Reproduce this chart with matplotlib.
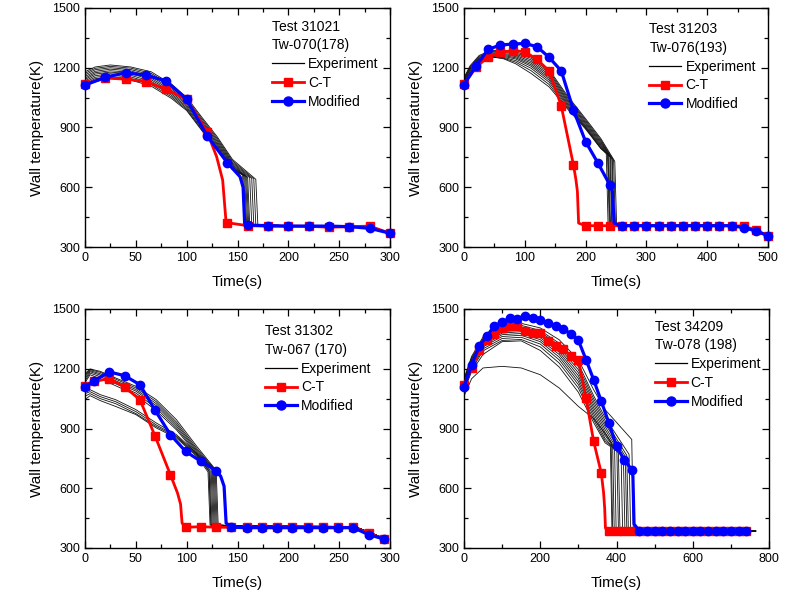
import matplotlib
matplotlib.use('Agg')
import matplotlib.pyplot as plt
from matplotlib.lines import Line2D
from matplotlib.ticker import MultipleLocator

plt.rcParams['font.family'] = ['Liberation Sans', 'DejaVu Sans']

# ---------------- Panel 1 : Test 31021 ----------------
P1_TITLE = "Test 31021\nTw-070(178)"
P1_EXP_GRID = [0, 10, 25, 45, 65, 85, 100, 115, 130, 145]
P1_EXP_VALS = [
    [1180, 1204, 1214, 1204, 1180, 1118, 1052, 951, 854, 740],
    [1172, 1197, 1207, 1198, 1172, 1110, 1044, 943, 846, 733],
    [1164, 1190, 1200, 1191, 1164, 1102, 1036, 935, 838, 726],
    [1156, 1182, 1193, 1184, 1156, 1094, 1028, 927, 830, 720],
    [1148, 1175, 1185, 1177, 1148, 1086, 1020, 919, 822, 714],
    [1141, 1168, 1178, 1170, 1140, 1078, 1012, 911, 815, 708],
    [1134, 1160, 1170, 1162, 1132, 1070, 1004, 903, 808, 702],
    [1127, 1152, 1162, 1154, 1124, 1062, 997, 895, 800, 697],
    [1120, 1145, 1154, 1146, 1116, 1054, 990, 888, 793, 692],
    [1113, 1138, 1146, 1138, 1108, 1046, 985, 884, 787, 688],
]
P1_EXP_DROP_T = [168, 166, 164, 162, 160, 159, 158, 157, 156, 155]
P1_EXP_DROP_V = [640, 642, 645, 648, 650, 652, 655, 658, 660, 662]
P1_EXP_AFTER = 412
P1_EXP_TAIL_T = [175, 250, 280, 300]
P1_EXP_TAIL_V = [410, 403, 398, 372]
P1_SIM_T = [0, 20, 40, 60, 80, 100, 120, 140, 160, 180, 200, 220, 240, 260, 280, 300]
P1_CT_V = [1118, 1148, 1143, 1130, 1092, 1041, 879, 422, 407, 405, 405, 404, 399, 402, 405, 369]
P1_CT_DROP_T = [129.5, 135.4, 138.5]
P1_CT_DROP_V = [753, 636, 440]
P1_MOD_V = [1113, 1152, 1175, 1163, 1133, 1041, 859, 723, 410, 407, 405, 405, 405, 402, 394, 369]
P1_MOD_DROP_T = [152.5, 155.5, 157]
P1_MOD_DROP_V = [653, 600, 420]

# ---------------- Panel 2 : Test 31203 ----------------
P2_TITLE = "Test 31203\nTw-076(193)"
P2_EXP_GRID = [0, 10, 25, 45, 65, 85, 110, 140, 170, 200, 225]
P2_EXP_VALS = [
    [1150, 1210, 1262, 1287, 1287, 1280, 1255, 1190, 1060, 944, 845],
    [1145, 1205, 1257, 1282, 1283, 1274, 1248, 1182, 1052, 937, 838],
    [1140, 1200, 1252, 1278, 1278, 1268, 1240, 1174, 1044, 930, 831],
    [1135, 1195, 1247, 1273, 1272, 1262, 1232, 1165, 1037, 923, 825],
    [1130, 1190, 1243, 1269, 1267, 1256, 1224, 1156, 1030, 917, 818],
    [1125, 1183, 1238, 1264, 1262, 1250, 1216, 1147, 1022, 910, 812],
    [1120, 1176, 1233, 1260, 1257, 1244, 1208, 1138, 1015, 904, 806],
    [1115, 1170, 1230, 1256, 1252, 1236, 1198, 1128, 1008, 900, 800],
    [1110, 1165, 1228, 1254, 1248, 1228, 1186, 1116, 1000, 896, 796],
    [1110, 1162, 1228, 1255, 1245, 1220, 1172, 1104, 994, 892, 794],
]
P2_EXP_DROP_T = [248, 246, 244, 243, 241, 240, 238, 237, 236, 234]
P2_EXP_DROP_V = [730, 735, 740, 745, 750, 752, 758, 760, 765, 770]
P2_EXP_AFTER = 410
P2_EXP_TAIL_T = [300, 440, 480, 500]
P2_EXP_TAIL_V = [407, 405, 385, 356]
P2_SIM_T = [0, 20, 40, 60, 80, 100, 120, 140, 160, 180, 200, 220, 240, 260, 280, 300,
            320, 340, 360, 380, 400, 420, 440, 460, 480, 500]
P2_CT_V = [1118, 1203, 1255, 1277, 1286, 1281, 1242, 1184, 1008, 712, 407, 407, 407,
           407, 407, 407, 407, 407, 407, 407, 407, 407, 407, 405, 385, 356]
P2_CT_DROP_T = [184, 186.5, 188.5]
P2_CT_DROP_V = [640, 580, 420]
P2_MOD_V = [1115, 1210, 1293, 1314, 1319, 1322, 1306, 1252, 1184, 988, 829, 723, 611,
            407, 407, 407, 407, 407, 407, 407, 407, 407, 407, 397, 381, 356]
P2_MOD_DROP_T = [244, 247]
P2_MOD_DROP_V = [580, 420]

# ---------------- Panel 3 : Test 31302 ----------------
P3_TITLE = "Test 31302\nTw-067 (170)"
P3_EXP_GRID = [0, 5, 15, 30, 50, 70, 90, 110]
P3_EXP_VALS = [
    [1175, 1199, 1187, 1154, 1112, 1045, 944, 810],
    [1168, 1195, 1182, 1148, 1104, 1035, 932, 800],
    [1160, 1190, 1175, 1140, 1096, 1025, 922, 792],
    [1150, 1185, 1168, 1132, 1088, 1015, 912, 785],
    [1140, 1178, 1160, 1125, 1078, 1003, 902, 778],
    [1130, 1170, 1150, 1115, 1068, 990, 893, 770],
    [1087, 1095, 1070, 1045, 995, 928, 869, 775],
    [1075, 1085, 1060, 1035, 985, 918, 862, 770],
    [1062, 1075, 1050, 1025, 975, 910, 858, 765],
    [1045, 1065, 1040, 1011, 970, 903, 852, 760],
]
P3_EXP_DROP_T = [129, 128, 127, 126, 125, 124, 123, 122, 122, 121]
P3_EXP_DROP_V = [690, 692, 695, 697, 700, 700, 690, 688, 685, 682]
P3_EXP_AFTER = 415
P3_EXP_TAIL_T = [160, 265, 280, 296]
P3_EXP_TAIL_V = [410, 408, 378, 345]
P3_SIM_T = [0, 9, 24, 39, 54, 69, 84, 99, 114, 129, 144, 159, 174, 189, 204, 219, 234,
            249, 264, 279, 294]
P3_CT_V = [1115, 1137, 1150, 1108, 1045, 861, 668, 404, 407, 404, 404, 404, 404, 404,
           404, 404, 404, 404, 404, 375, 345]
P3_CT_DROP_T = [91, 94, 95.5]
P3_CT_DROP_V = [576, 520, 425]
P3_MOD_V = [1108, 1140, 1184, 1165, 1120, 991, 869, 785, 735, 688, 404, 402, 402, 402,
            402, 402, 402, 402, 402, 367, 345]
P3_MOD_DROP_T = [133.5, 136.8, 138.8]
P3_MOD_DROP_V = [660, 610, 425]

# ---------------- Panel 4 : Test 34209 ----------------
P4_TITLE = "Test 34209\nTw-078 (198)"
P4_EXP_GRID = [0, 20, 50, 100, 150, 200, 250, 300, 340, 370]
P4_EXP_VALS = [
    [1150, 1262, 1360, 1412, 1428, 1405, 1345, 1245, 1095, 995],
    [1145, 1255, 1352, 1405, 1418, 1392, 1328, 1225, 1065, 955],
    [1140, 1250, 1346, 1400, 1410, 1384, 1318, 1210, 1050, 940],
    [1132, 1242, 1340, 1394, 1402, 1375, 1306, 1195, 1035, 925],
    [1126, 1236, 1332, 1386, 1394, 1365, 1295, 1180, 1020, 910],
    [1120, 1230, 1325, 1379, 1386, 1356, 1283, 1165, 1005, 895],
    [1112, 1222, 1318, 1371, 1377, 1346, 1271, 1150, 990, 880],
    [1106, 1214, 1310, 1362, 1368, 1336, 1258, 1135, 975, 865],
    [1100, 1206, 1300, 1352, 1358, 1324, 1244, 1120, 960, 850],
    [1094, 1196, 1290, 1342, 1347, 1310, 1228, 1103, 945, 838],
    [1088, 1186, 1272, 1336, 1340, 1292, 1208, 1082, 930, 828],
    [1062, 1150, 1204, 1212, 1204, 1170, 1103, 1011, 950, 875],
]
P4_EXP_DROP_T = [440, 433, 427, 423, 418, 412, 405, 401, 395, 390, 384, 386]
P4_EXP_DROP_V = [845, 770, 765, 760, 760, 765, 775, 785, 795, 805, 810, 830]
P4_EXP_AFTER = 395
P4_EXP_TAIL_T = [500, 700, 765]
P4_EXP_TAIL_V = [390, 388, 385]
P4_SIM_T = [0, 20, 40, 60, 80, 100, 120, 140, 160, 180, 200, 220, 240, 260, 280, 300,
            320, 340, 360, 380, 400, 420, 440, 460, 480, 500, 520, 540, 560, 580, 600,
            620, 640, 660, 680, 700, 720, 740]
P4_CT_V = [1120, 1204, 1293, 1346, 1376, 1405, 1413, 1413, 1391, 1380, 1380, 1338, 1313,
           1299, 1263, 1246, 1053, 836, 677, 384, 384, 384, 384, 384, 384, 384, 384,
           384, 384, 384, 384, 384, 384, 384, 384, 384, 384, 384]
P4_CT_DROP_T = [366, 369, 371]
P4_CT_DROP_V = [580, 500, 400]
P4_MOD_V = [1108, 1221, 1313, 1363, 1417, 1433, 1455, 1450, 1467, 1455, 1443, 1430, 1413,
            1400, 1375, 1343, 1246, 1145, 1037, 928, 811, 744, 693, 386, 386, 386, 386,
            386, 386, 386, 386, 386, 386, 386, 386, 386, 386, 386]
P4_MOD_DROP_T = [443, 446]
P4_MOD_DROP_V = [660, 420]

PANELS = [
    dict(title=P1_TITLE, grid=P1_EXP_GRID, vals=P1_EXP_VALS, dt=P1_EXP_DROP_T, dv=P1_EXP_DROP_V,
         after=P1_EXP_AFTER, tt=P1_EXP_TAIL_T, tv=P1_EXP_TAIL_V, st=P1_SIM_T,
         ct=P1_CT_V, ctdt=P1_CT_DROP_T, ctdv=P1_CT_DROP_V, md=P1_MOD_V, mddt=P1_MOD_DROP_T, mddv=P1_MOD_DROP_V,
         rect=[85, 8, 390, 247], xmax=300, xmaj=50, gap=2, leg=(0.612, 0.950)),
    dict(title=P2_TITLE, grid=P2_EXP_GRID, vals=P2_EXP_VALS, dt=P2_EXP_DROP_T, dv=P2_EXP_DROP_V,
         after=P2_EXP_AFTER, tt=P2_EXP_TAIL_T, tv=P2_EXP_TAIL_V, st=P2_SIM_T,
         ct=P2_CT_V, ctdt=P2_CT_DROP_T, ctdv=P2_CT_DROP_V, md=P2_MOD_V, mddt=P2_MOD_DROP_T, mddv=P2_MOD_DROP_V,
         rect=[464, 8, 768, 247], xmax=500, xmaj=100, gap=3, leg=(0.61, 0.940)),
    dict(title=P3_TITLE, grid=P3_EXP_GRID, vals=P3_EXP_VALS, dt=P3_EXP_DROP_T, dv=P3_EXP_DROP_V,
         after=P3_EXP_AFTER, tt=P3_EXP_TAIL_T, tv=P3_EXP_TAIL_V, st=P3_SIM_T,
         ct=P3_CT_V, ctdt=P3_CT_DROP_T, ctdv=P3_CT_DROP_V, md=P3_MOD_V, mddt=P3_MOD_DROP_T, mddv=P3_MOD_DROP_V,
         rect=[85, 309, 390, 548], xmax=300, xmaj=50, gap=2, leg=(0.59, 0.936)),
    dict(title=P4_TITLE, grid=P4_EXP_GRID, vals=P4_EXP_VALS, dt=P4_EXP_DROP_T, dv=P4_EXP_DROP_V,
         after=P4_EXP_AFTER, tt=P4_EXP_TAIL_T, tv=P4_EXP_TAIL_V, st=P4_SIM_T,
         ct=P4_CT_V, ctdt=P4_CT_DROP_T, ctdv=P4_CT_DROP_V, md=P4_MOD_V, mddt=P4_MOD_DROP_T, mddv=P4_MOD_DROP_V,
         rect=[464, 309, 769, 548], xmax=800, xmaj=200, gap=4, leg=(0.625, 0.954)),
]

W, H = 800, 596
fig = plt.figure(figsize=(W / 100, H / 100), dpi=100)


def merged(t_nodes, v_nodes, t_extra, v_extra):
    pts = sorted(list(zip(t_nodes, v_nodes)) + list(zip(t_extra, v_extra)))
    return [p[0] for p in pts], [p[1] for p in pts]


for p in PANELS:
    x0, y0, x1, y1 = p['rect']
    ax = fig.add_axes([x0 / W, 1 - y1 / H, (x1 - x0) / W, (y1 - y0) / H])

    # experiment curves
    for vals, dt, dv in zip(p['vals'], p['dt'], p['dv']):
        t = list(p['grid']) + [dt, dt + p['gap']] + list(p['tt'])
        v = list(vals) + [dv, p['after']] + list(p['tv'])
        ax.plot(t, v, color='#111111', lw=0.6, zorder=2)

    # C-T
    lt, lv = merged(p['st'], p['ct'], p['ctdt'], p['ctdv'])
    ax.plot(lt, lv, color='#ff0000', lw=2.0, zorder=3)
    ax.plot(p['st'], p['ct'], ls='none', marker='s', ms=5.5, color='#ff0000',
            zorder=3, clip_on=False)

    # Modified
    lt, lv = merged(p['st'], p['md'], p['mddt'], p['mddv'])
    ax.plot(lt, lv, color='#0000ff', lw=2.3, zorder=4)
    ax.plot(p['st'], p['md'], ls='none', marker='o', ms=6, color='#0000ff',
            zorder=4, clip_on=False)

    ax.set_xlim(0, p['xmax'])
    ax.set_ylim(300, 1500)
    ax.xaxis.set_major_locator(MultipleLocator(p['xmaj']))
    ax.xaxis.set_minor_locator(MultipleLocator(p['xmaj'] / 2))
    ax.yaxis.set_major_locator(MultipleLocator(300))
    ax.yaxis.set_minor_locator(MultipleLocator(150))
    ax.tick_params(which='both', direction='in', top=True, right=True, labelsize=9, width=0.9)
    ax.tick_params(which='major', length=5)
    ax.tick_params(which='minor', length=3)
    for s in ax.spines.values():
        s.set_linewidth(1.0)
    ax.set_xlabel('Time(s)', fontsize=11, labelpad=8)
    ax.set_ylabel('Wall temperature(K)', fontsize=11, labelpad=6)

    handles = [
        Line2D([], [], color='black', lw=0.9),
        Line2D([], [], color='#ff0000', lw=2.0, marker='s', ms=6),
        Line2D([], [], color='#0000ff', lw=2.3, marker='o', ms=6.5),
    ]
    leg = ax.legend(handles, ['Experiment', 'C-T', 'Modified'], title=p['title'],
                    loc='upper left', bbox_to_anchor=p['leg'], frameon=False,
                    fontsize=10, title_fontsize=10, alignment='left',
                    handlelength=2.3, handletextpad=0.3, labelspacing=0.35,
                    borderaxespad=0, borderpad=0)
    leg.get_title().set_linespacing(1.4)

fig.savefig('out.png', dpi=100)
